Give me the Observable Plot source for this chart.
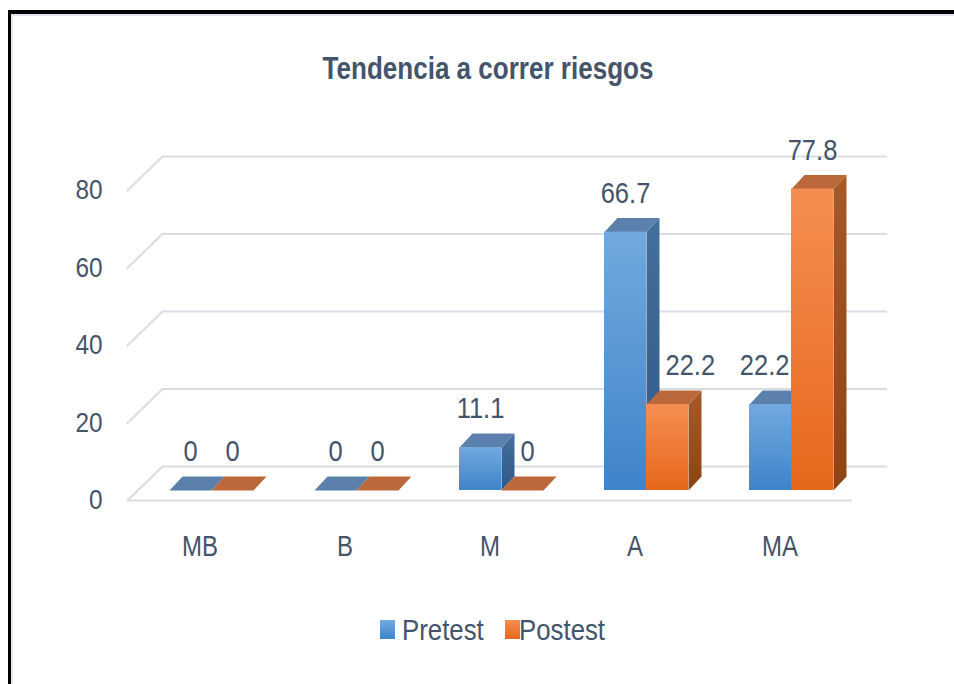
<!DOCTYPE html>
<html>
<head>
<meta charset="utf-8">
<script src="https://cdn.jsdelivr.net/npm/d3@7"></script>
<script src="https://cdn.jsdelivr.net/npm/@observablehq/plot@0.6"></script>
<style>
  html, body { margin: 0; padding: 0; background: #fff; width: 954px; height: 684px; overflow: hidden; }
  body { position: relative; font-family: 'Liberation Sans', Arial, sans-serif; color: #44546a; }
  #frame { position: absolute; left: 8px; top: 10px; width: 1000px; height: 720px; border-left: 3px solid #000; border-top: 4px solid #000; }
  #frame::after { content: ""; position: absolute; left: 0; top: 0; right: 0; bottom: 0; border-left: 2px solid #e3e7ed; border-top: 2px solid #e3e7ed; }
  #title { position: absolute; left: 0; width: 975px; top: 53px; text-align: center; font-size: 31px; line-height: 1; font-weight: bold; }
  #title span { display: inline-block; transform: scaleX(0.84); transform-origin: center; }
  #chart { position: absolute; left: 0; top: 0; }
  .sw { position: absolute; width: 15px; height: 19px; top: 620px; }
  .lt { position: absolute; top: 614.6px; font-size: 30px; line-height: 1; white-space: nowrap; transform: scaleX(0.86); transform-origin: left center; }
</style>
</head>
<body>
<div id="frame"></div>
<div id="title"><span>Tendencia a correr riesgos</span></div>
<div id="chart"></div>
<div id="legend"></div>
<script>
// ---- data ----
const categories = ["MB", "B", "M", "A", "MA"];
const seriesNames = ["Pretest", "Postest"];
const pretest = [0, 0, 11.1, 66.7, 22.2];
const postest = [0, 0, 0, 22.2, 77.8];
const yTicks = [0, 20, 40, 60, 80];

const rows = categories.map((c, i) => ({cat: c, pre: pretest[i], post: postest[i]}));
const preRows = rows.map(r => ({cat: r.cat, v: r.pre, other: r.post}));
const postRows = rows.map(r => ({cat: r.cat, v: r.post, other: r.pre}));

// ---- styling constants ----
const FONT = "'Liberation Sans', Arial, sans-serif";
const TXT = "#44546a";
const GRID = "#d9dde3";
const DX = 13, DY = -14;       // bar depth
const BW = 42;                 // bar width
const BASE_DY = -10;           // bar plane vs front plane
const BACK_DX = 35, BACK_DY = -34; // back wall vs front plane

const colors = {
  Pretest: {front: ["#72a9df", "#3e84c8"], side: ["#44709d", "#2e5986"], top: "#5a80ab"},
  Postest: {front: ["#f58e52", "#e6671a"], side: ["#a65a26", "#8c4512"], top: "#bb693b"}
};

const topShape = {
  draw(ctx) {
    ctx.moveTo(-BW / 2, 0); ctx.lineTo(BW / 2, 0);
    ctx.lineTo(BW / 2 + DX, DY); ctx.lineTo(-BW / 2 + DX, DY); ctx.closePath();
  }
};
const sideShape = {
  draw(ctx, l) {
    ctx.moveTo(BW / 2, 0); ctx.lineTo(BW / 2, -l);
    ctx.lineTo(BW / 2 + DX, -l + DY); ctx.lineTo(BW / 2 + DX, DY); ctx.closePath();
  }
};
const lineShape = { draw(ctx, l) { ctx.moveTo(0, 0); ctx.lineTo(0, -l); } };

function defs() {
  const d = d3.create("svg:defs");
  for (const s of seriesNames) {
    for (const part of ["front", "side"]) {
      const g = d.append("linearGradient").attr("id", `g-${s}-${part}`)
        .attr("x1", 0).attr("y1", 0).attr("x2", 0).attr("y2", 1);
      g.append("stop").attr("offset", "0%").attr("stop-color", colors[s][part][0]);
      g.append("stop").attr("offset", "100%").attr("stop-color", colors[s][part][1]);
    }
  }
  return d.node();
}

// geometry inside each 145px category band: pretest 42..84, postest 84..126
const bandW = 145;
const insets = {Pretest: [42, bandW - 84], Postest: [84, bandW - 126]};
const centerDx = {Pretest: 63 - bandW / 2, Postest: 105 - bandW / 2};

function barMarks(data, s) {
  return [
    Plot.vector(data, {x: "cat", y: 0, length: "v", anchor: "start", shape: sideShape,
      dx: centerDx[s], dy: BASE_DY, fill: `url(#g-${s}-side)`, stroke: "none"}),
    Plot.vector(data, {x: "cat", y: "v", length: 1, anchor: "start", shape: topShape,
      dx: centerDx[s], dy: BASE_DY, fill: colors[s].top, stroke: "none"}),
    Plot.barY(data, {x: "cat", y: "v", insetLeft: insets[s][0], insetRight: insets[s][1],
      dy: BASE_DY, fill: `url(#g-${s}-front)`})
  ];
}

const labelStyle = {fill: TXT, fontSize: 29, fontFamily: FONT, lineAnchor: "middle", dy: BASE_DY - 38.5};
const fmt = d => String(d.v);

const plot = Plot.plot({
  width: 954,
  height: 684,
  marginLeft: 127,
  marginRight: 102,
  marginTop: 190,
  marginBottom: 184,
  style: {fontFamily: FONT, background: "transparent", overflow: "visible"},
  x: {domain: categories, padding: 0, label: null},
  y: {domain: [0, 80], label: null},
  length: {type: "linear", domain: [0, 80], range: [0, 310]},
  marks: [
    defs,
    // back wall gridlines
    Plot.ruleY(yTicks, {dx: BACK_DX, dy: BACK_DY, stroke: GRID, strokeWidth: 2}),
    // side wall diagonals
    Plot.vector(yTicks, {y: d => d, frameAnchor: "left", length: Math.hypot(BACK_DX, BACK_DY),
      rotate: Math.atan2(BACK_DX, -BACK_DY) * 180 / Math.PI, anchor: "start", shape: lineShape,
      stroke: GRID, strokeWidth: 2}),
    // front floor edge
    Plot.ruleY([0], {stroke: GRID, strokeWidth: 2}),
    ...barMarks(preRows, "Pretest"),
    ...barMarks(postRows, "Postest"),
    // data labels (shifted off a taller neighbouring bar, as in the original)
    Plot.text(preRows.filter(d => !(d.other > d.v)), {x: "cat", y: "v", text: fmt, dx: centerDx.Pretest, ...labelStyle}),
    Plot.text(preRows.filter(d => d.other > d.v), {x: "cat", y: "v", text: fmt, textAnchor: "end", dx: centerDx.Pretest + BW / 2 - 2, ...labelStyle}),
    Plot.text(postRows.filter(d => !(d.other > d.v)), {x: "cat", y: "v", text: fmt, dx: centerDx.Postest, ...labelStyle}),
    Plot.text(postRows.filter(d => d.other > d.v), {x: "cat", y: "v", text: fmt, textAnchor: "start", dx: centerDx.Postest - BW / 2 + 19, ...labelStyle}),
    // axes
    Plot.axisY({ticks: yTicks, tickSize: 0, tickPadding: 25, fontSize: 28, fill: TXT, fontFamily: FONT, label: null}),
    Plot.axisX({tickSize: 0, tickPadding: 34, fontSize: 30, fill: TXT, fontFamily: FONT, label: null})
  ]
});
document.getElementById("chart").appendChild(plot);

// condense glyphs horizontally (the original uses a narrow face), keeping each text's anchor point
function condense(test, k) {
  const texts = Array.from(plot.querySelectorAll("text")).filter(t => {
    const g = t.closest("[aria-label]");
    return g && test(g.getAttribute("aria-label"));
  });
  for (const t of texts) {
    const parent = t.parentNode;
    const r = t.getBoundingClientRect();
    const m = parent.getScreenCTM();
    const left = r.left - m.e, right = r.right - m.e, top = r.top - m.f, bottom = r.bottom - m.f;
    const anchor = getComputedStyle(t).textAnchor;
    const ax = anchor === "end" ? right : anchor === "middle" ? (left + right) / 2 : left;
    const ay = (top + bottom) / 2;
    const g = document.createElementNS("http://www.w3.org/2000/svg", "g");
    g.setAttribute("transform", `translate(${ax},${ay}) scale(${k},1) translate(${-ax},${-ay})`);
    parent.insertBefore(g, t);
    g.appendChild(t);
  }
}
condense(l => /^y-axis/.test(l), 0.87);
condense(l => /^x-axis/.test(l), 0.8);
condense(l => !/axis/.test(l), 0.88);

// legend
const legend = d3.select("#legend");
const legendPos = {Pretest: [380, 402], Postest: [505, 519]};
for (const s of seriesNames) {
  legend.append("span").attr("class", "sw").style("left", legendPos[s][0] + "px")
    .style("background", `linear-gradient(${colors[s].front[0]}, ${colors[s].front[1]})`);
  legend.append("span").attr("class", "lt").style("left", legendPos[s][1] + "px").text(s);
}
</script>
</body>
</html>
